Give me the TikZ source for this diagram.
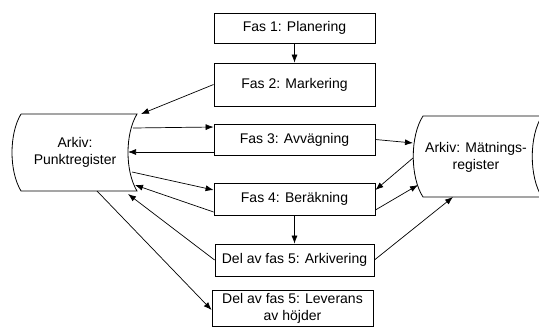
\documentclass[tikz,border=0pt]{standalone}
\usepackage{fontspec}
\setmainfont{Liberation Sans}
\usetikzlibrary{arrows.meta}
\begin{document}
\begin{tikzpicture}[x=1pt,y=-1pt,
		fas/.style={draw,line width=0.8pt,minimum width=161pt,align=center,inner sep=2pt,font=\fontsize{14}{17}\selectfont},
		arkiv/.style={align=center,font=\fontsize{14}{17}\selectfont},
		pil/.style={-{Latex[length=8pt,width=6pt]},line width=0.7pt}]
			\useasboundingbox (0,0) rectangle (539,327);
			%			Faser
			\node[fas,minimum height=30pt] (fas1) at (294.5,28) {Fas 1: Planering};
			\node[fas,minimum height=43pt] (fas2) at (294.5,84.5) {Fas 2: Markering};
			\node[fas,minimum height=31pt] (fas3) at (294.5,139.5) {Fas 3: Avvägning};
			\node[fas,minimum height=32pt] (fas4) at (294.5,199) {Fas 4: Beräkning};
			\node[fas,minimum height=32pt,minimum width=159pt] (arkivering) at (294.5,260) {Del av fas 5: Arkivering};
			\node[fas,minimum height=36pt] (leverans) at (292.5,308) {Del av fas 5: Leverans\\av höjder};
			%			Arkiv
			\draw[line width=0.8pt] (21,114) -- (137,114) .. controls (125,134) and (125,171) .. (137,191) -- (21,191) .. controls (9,171) and (9,134) .. (21,114);
			\draw[line width=0.8pt] (542,116) -- (423,116) .. controls (410,136) and (410,177) .. (423,197) -- (542,197) (542,116) .. controls (529,136) and (529,177) .. (542,197);
			\node[arkiv] (punkt) at (75,152) {Arkiv:\\Punktregister};
			\node[arkiv] (matning) at (476,157) {Arkiv: Mätnings-\\register};
			\coordinate (p2) at (141,114);
			\coordinate (p3) at (133,128);
			\coordinate (p4) at (128,152);
			\coordinate (p5) at (132,172);
			\coordinate (p6) at (135,185);
			\coordinate (p7) at (128,194);
			\coordinate (p8) at (97,191);
			\coordinate (m3) at (413,143);
			\coordinate (m4a) at (413,158);
			\coordinate (m4b) at (418,185);
			\coordinate (m5) at (453,197);
			%			Pilar
			\draw[pil] (fas1) -- (fas2);
			\draw[pil] (fas4) -- (arkivering);
			\draw[pil] (fas2.west) -- (p2);
			\draw[pil] (p3) -- ([yshift=12.5pt]fas3.west);
			\draw[pil] ([yshift=-12.5pt]fas3.west) -- (p4);
			\draw[pil] (p5) -- ([yshift=9pt]fas4.west);
			\draw[pil] ([yshift=-13pt]fas4.west) -- (p6);
			\draw[pil] (arkivering.west) -- (p7);
			\draw[pil] (p8) -- ([yshift=-2pt]leverans.west);
			\draw[pil] (fas3.east) -- (m3);
			\draw[pil] (m4a) -- ([yshift=9pt]fas4.east);
			\draw[pil] ([yshift=-11pt]fas4.east) -- (m4b);
			\draw[pil] (arkivering.east) -- (m5);
		\end{tikzpicture}
\end{document}
